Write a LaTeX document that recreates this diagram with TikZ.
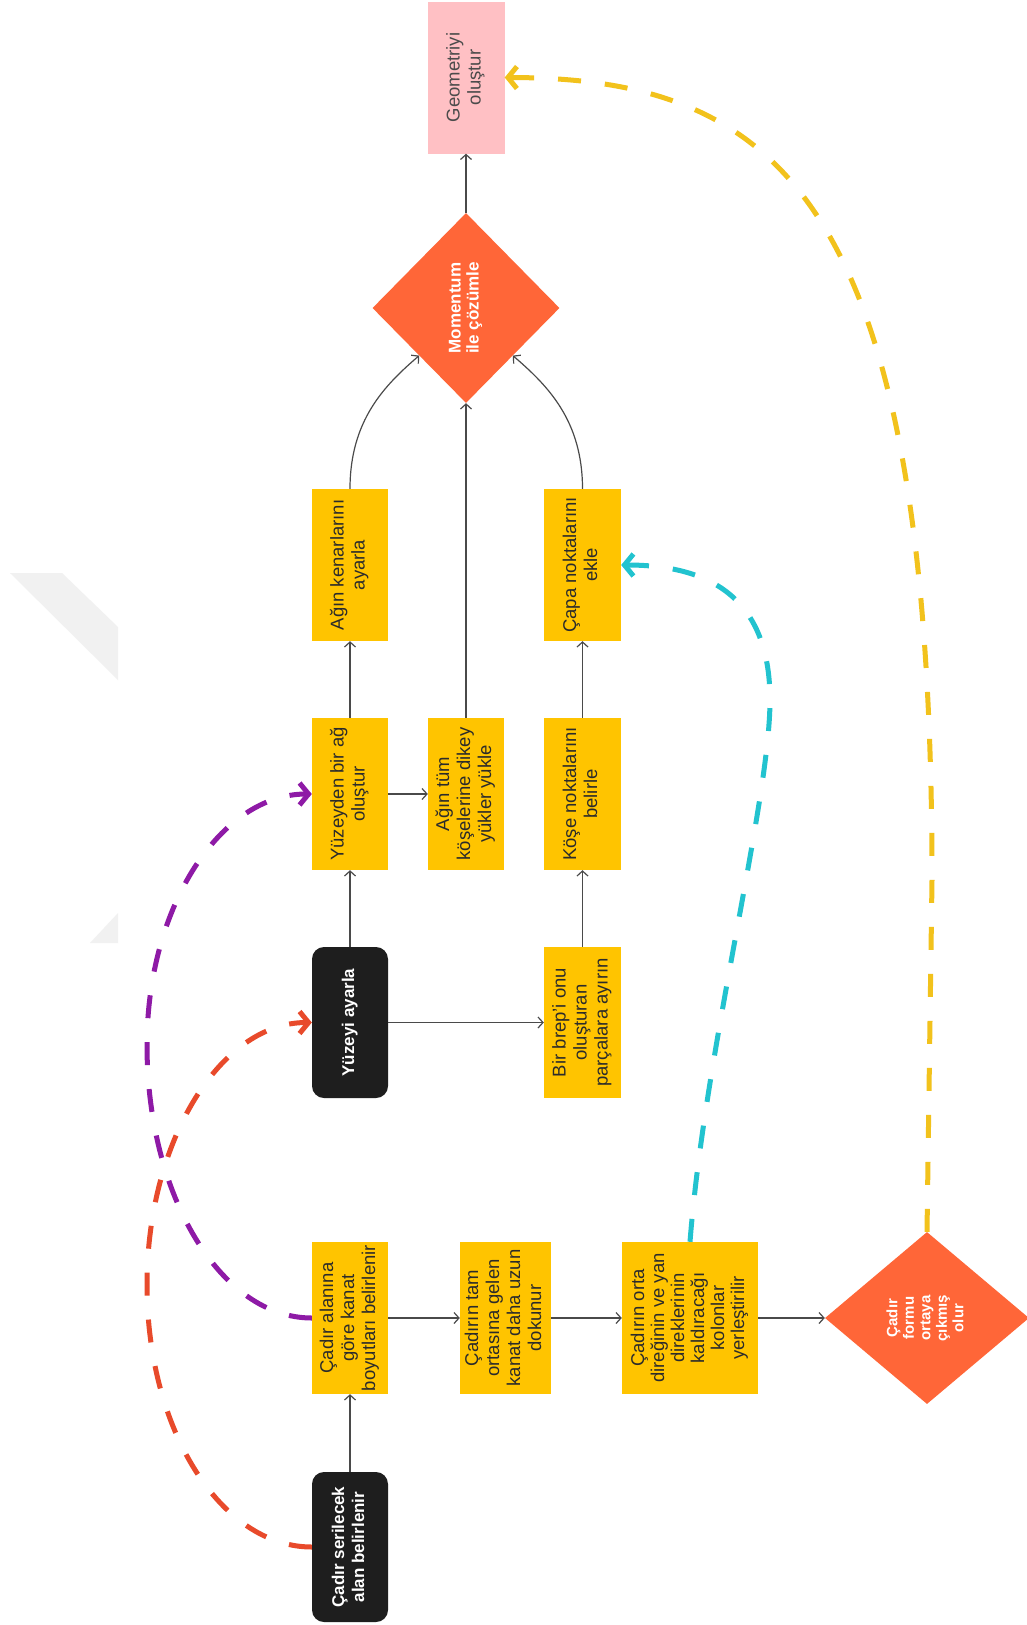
\documentclass[tikz,border=0pt]{standalone}
\usepackage{fontspec}
\usepackage{graphicx}
\setmainfont{Liberation Sans}
\usetikzlibrary{arrows.meta,shapes.geometric}

\definecolor{stepyellow}{HTML}{FFC400}
\definecolor{geopink}{HTML}{FFC0C4}
\definecolor{decorange}{HTML}{FF6638}
\definecolor{startblack}{HTML}{1E1E1E}
\definecolor{linegray}{HTML}{4A4A4A}
\definecolor{textdark}{HTML}{2B2B2B}
\definecolor{dashyellow}{HTML}{F2C21C}
\definecolor{dashpurple}{HTML}{8E1AA6}
\definecolor{dashred}{HTML}{E84A2B}
\definecolor{dashcyan}{HTML}{22C3CF}
\definecolor{markgray}{HTML}{F1F1F1}

% vertical (bottom-to-top) multi-line label
\newcommand{\vlines}[1]{\rotatebox{90}{\begin{tabular}{@{}c@{}}#1\end{tabular}}}

\begin{document}
\begin{tikzpicture}[x=1pt,y=-1pt,
  stepbox/.style={rectangle, fill=stepyellow, inner sep=0pt, text=textdark,
    font=\fontsize{18.5}{21}\selectfont, minimum height=152pt},
  startbox/.style={rectangle, rounded corners=12pt, fill=startblack, inner sep=0pt,
    text=white, font=\fontsize{17}{20}\selectfont\bfseries,
    minimum width=76pt, minimum height=151pt},
  geobox/.style={rectangle, fill=geopink, inner sep=0pt, text=textdark!85,
    font=\fontsize{18.5}{21}\selectfont, minimum width=77pt, minimum height=152pt},
  decision/.style={diamond, fill=decorange, inner sep=0pt, text=white},
  flow/.style={draw=linegray, line width=1.2pt,
    -{Straight Barb[length=5pt,width=11pt,line width=1.2pt]}},
  loop/.style={line width=5pt, dash pattern=on 23pt off 24pt,
    -{Straight Barb[length=9pt,width=22pt,line width=5pt]}}
]
\useasboundingbox[fill=white] (0,0) rectangle (1027,1625);

% faint background mark
\fill[markgray] (10,573) -- (62,573) -- (118,627) -- (118,680) -- cycle;
\fill[markgray] (118,913) -- (90,943) -- (118,943) -- cycle;

% nodes
\node[geobox] (geo) at (466,77.5) {\vlines{Geometriyi\\oluştur}};
\node[decision, minimum width=187pt, minimum height=190pt,
      font=\fontsize{17}{18}\selectfont\bfseries] (mom) at (466,308)
      {\vlines{Momentum\\ile çözümle}};

\node[stepbox, minimum width=76pt] (kenar) at (350,565) {\vlines{Ağın kenarlarını\\ayarla}};
\node[stepbox, minimum width=77pt] (capa) at (582.5,565) {\vlines{Çapa noktalarını\\ekle}};

\node[stepbox, minimum width=76pt] (yuzag) at (350,794) {\vlines{Yüzeyden bir ağ\\oluştur}};
\node[stepbox, minimum width=76pt] (tum) at (466,794) {\vlines{Ağın tüm\\köşelerine dikey\\yükler yükle}};
\node[stepbox, minimum width=77pt] (kose) at (582.5,794) {\vlines{Köşe noktalarını\\belirle}};

\node[startbox] (yuzey) at (350,1022.5) {\vlines{Yüzeyi ayarla}};
\node[stepbox, minimum width=77pt, minimum height=151pt] (brep) at (582.5,1022.5)
  {\vlines{Bir brep'i onu\\oluşturan\\parçalara ayırın}};

\node[stepbox, minimum width=76pt] (alan) at (350,1318) {\vlines{Çadır alanına\\göre kanat\\boyutları belirlenir}};
\node[stepbox, minimum width=91pt] (tam) at (505.5,1318) {\vlines{Çadırın tam\\ortasına gelen\\kanat daha uzun\\dokunur}};
\node[stepbox, minimum width=136pt, font=\fontsize{18.5}{20}\selectfont] (orta) at (690,1318) {\vlines{Çadırın orta\\direğinin ve yan\\direklerinin\\kaldıracağı\\kolonlar\\yerleştirilir}};
\node[decision, minimum width=204pt, minimum height=172pt,
      font=\fontsize{15}{16.5}\selectfont\bfseries] (cform) at (927,1318)
      {\vlines{Çadır\\formu\\ortaya\\çıkmış\\olur}};

\node[startbox, minimum height=150pt] (seril) at (350,1547) {\vlines{Çadır serilecek\\alan belirlenir}};

% main flow
\draw[flow] (seril.north) -- (alan.south);
\draw[flow] (alan.east) -- (tam.west);
\draw[flow] (tam.east) -- (orta.west);
\draw[flow] (orta.east) -- (cform.west);
\draw[flow] (yuzey.north) -- (yuzag.south);
\draw[flow] (yuzey.east) -- (brep.west);
\draw[flow] (brep.north) -- (kose.south);
\draw[flow] (kose.north) -- (capa.south);
\draw[flow] (yuzag.north) -- (kenar.south);
\draw[flow] (yuzag.east) -- (tum.west);
\draw[flow] (tum.north) -- (mom.south);
\draw[flow] (kenar.north) .. controls (350,420) and (385,385) .. (mom.south west);
\draw[flow] (capa.north) .. controls (582.5,420) and (547,385) .. (mom.south east);
\draw[flow] (mom.north) -- (geo.south);

% feedback links
\draw[loop, dashred] (seril.west) .. controls (221,1547) and (147,1430) .. (147,1285)
  .. controls (147,1140) and (221,1022.5) .. (yuzey.west);
\draw[loop, dashpurple] (alan.west) .. controls (221,1318) and (147,1196) .. (147,1045)
  .. controls (147,906) and (221,794) .. (yuzag.west);
\draw[loop, dashcyan] (orta.north) .. controls (705,1050) and (770,800) .. (770,700)
  .. controls (770,590) and (700,565) .. (capa.east);
\draw[loop, dashyellow] (cform.north) -- (932,880)
  .. controls (932,200) and (780,78) .. (geo.east);
\end{tikzpicture}
\end{document}
